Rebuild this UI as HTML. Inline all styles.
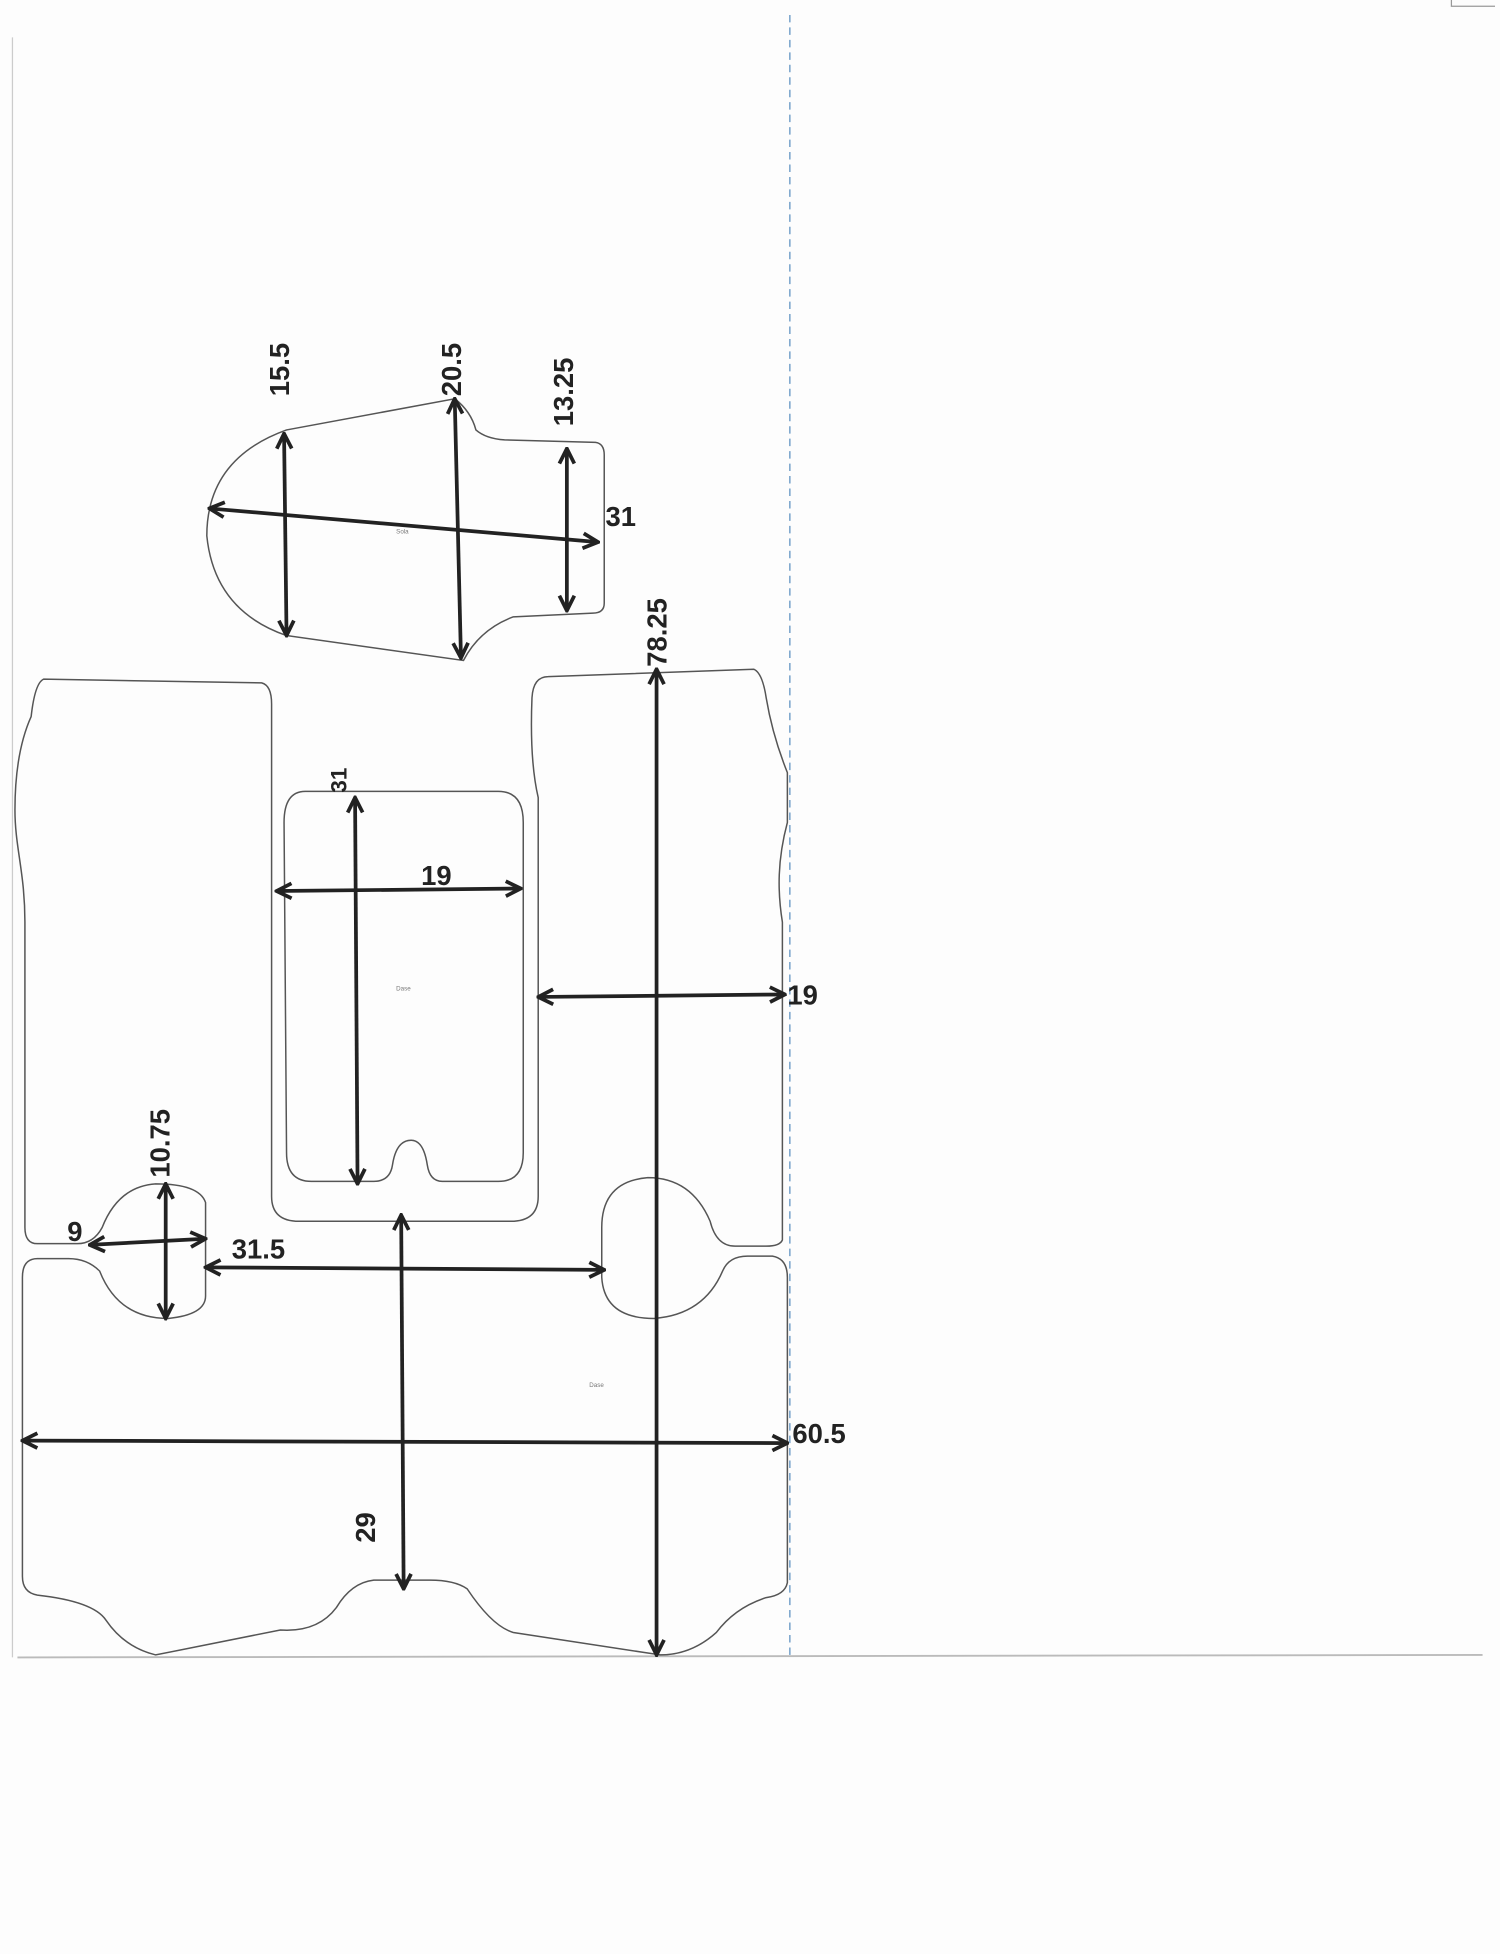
<!DOCTYPE html>
<html><head><meta charset="utf-8"><style>
html,body{margin:0;padding:0;background:#fdfdfd;}
svg{display:block}
text{font-family:"Liberation Sans",sans-serif;fill:#222;font-weight:bold;}
</style></head><body>
<svg width="1500" height="1954" viewBox="0 0 1204 1568" preserveAspectRatio="none" xmlns="http://www.w3.org/2000/svg">
<defs>
<marker id="a" viewBox="0 0 10 10" refX="9" refY="5" markerWidth="5" markerHeight="5" orient="auto-start-reverse">
<path d="M1,1 L9,5 L1,9" fill="none" stroke="#222" stroke-width="2"/></marker>
</defs>
<rect width="1204" height="1568" fill="#fdfdfd"/>
<line x1="10" y1="30" x2="10" y2="1330" stroke="#ccc" stroke-width="1"/>
<line x1="14" y1="1330" x2="1190" y2="1328" stroke="#bbb" stroke-width="1.5"/>
<line x1="634" y1="12" x2="634" y2="1330" stroke="#5a8fc0" stroke-width="1" stroke-dasharray="6,4"/>
<path d="M1165,0 L1165,5 L1200,5" fill="none" stroke="#999"/>
<g fill="none" stroke="#555" stroke-width="1.2">
<path d="M230,345 L365,320 Q378,330 382,345 Q390,352 405,353 L478,355 Q485,356 485,365 L485,484 Q485,492 476,492 L412,495 Q385,505 372,530 L230,510 Q172,490 166,430 Q166,368 230,345 Z"/>
<path d="M35,545 L210,548 Q218,550 218,565 L218,960 Q218,980 240,980 L410,980 Q432,980 432,960 L432,640 Q425,610 427,560 Q428,543 440,543 L605,537 Q612,540 615,560 Q620,590 632,620 L632,660 C624,690 624,715 628,740 L628,995 Q626,1000 615,1000 L590,1000 Q575,1000 570,980 Q555,945 520,945 Q483,948 483,985 L483,1025 Q485,1058 525,1058 Q565,1055 580,1020 Q585,1008 600,1008 L620,1008 Q632,1010 632,1025 L632,1270 Q630,1280 615,1282 Q590,1290 575,1310 Q555,1328 530,1328 L412,1310 Q395,1305 375,1275 Q365,1268 345,1268 L300,1268 Q282,1270 270,1290 Q255,1310 225,1308 L125,1328 Q100,1322 85,1300 Q75,1285 30,1280 Q18,1278 18,1265 L18,1025 Q18,1010 30,1010 L55,1010 Q70,1010 80,1020 Q95,1058 135,1058 Q165,1055 165,1040 L165,965 Q160,950 125,950 Q95,952 82,985 Q75,998 62,998 L30,998 Q20,998 20,985 L20,740 C20,700 12,680 12,650 C12,620 16,595 25,575 Q28,548 35,545 Z"/>
<path d="M245,635 L400,635 Q420,635 420,660 L420,925 Q420,948 400,948 L355,948 Q345,948 343,935 Q340,915 330,915 Q318,915 315,935 Q313,948 300,948 L250,948 Q230,948 230,925 L228,660 Q228,635 245,635 Z"/>
</g>
<g stroke="#222" stroke-width="3" fill="none" marker-start="url(#a)" marker-end="url(#a)">
<line x1="228" y1="348" x2="230" y2="510"/>
<line x1="365" y1="320" x2="370" y2="528"/>
<line x1="455" y1="360" x2="455" y2="490"/>
<line x1="168" y1="408" x2="480" y2="435"/>
<line x1="527" y1="537" x2="527" y2="1328"/>
<line x1="285" y1="640" x2="287" y2="950"/>
<line x1="222" y1="715" x2="418" y2="713"/>
<line x1="432" y1="800" x2="630" y2="798"/>
<line x1="133" y1="950" x2="133" y2="1058"/>
<line x1="72" y1="999" x2="165" y2="994"/>
<line x1="165" y1="1017" x2="485" y2="1019"/>
<line x1="322" y1="975" x2="324" y2="1275"/>
<line x1="18" y1="1156" x2="632" y2="1158"/>
</g>
<g font-size="22">
<text transform="translate(232,318) rotate(-90)">15.5</text>
<text transform="translate(370,318) rotate(-90)">20.5</text>
<text transform="translate(460,342) rotate(-90)">13.25</text>
<text x="486" y="422">31</text>
<text transform="translate(535,535) rotate(-90)">78.25</text>
<text transform="translate(278,636) rotate(-90)" font-size="18">31</text>
<text x="338" y="710">19</text>
<text x="632" y="806">19</text>
<text transform="translate(136,945) rotate(-90)">10.75</text>
<text x="54" y="996">9</text>
<text x="186" y="1010">31.5</text>
<text transform="translate(301,1238) rotate(-90)">29</text>
<text x="636" y="1158">60.5</text>
</g>
<g font-size="5"><text x="318" y="795" style="font-weight:normal;fill:#777">Dase</text><text x="473" y="1113" style="font-weight:normal;fill:#777">Dase</text><text x="318" y="428" style="font-weight:normal;fill:#777">Sola</text></g>
</svg>
</body></html>
